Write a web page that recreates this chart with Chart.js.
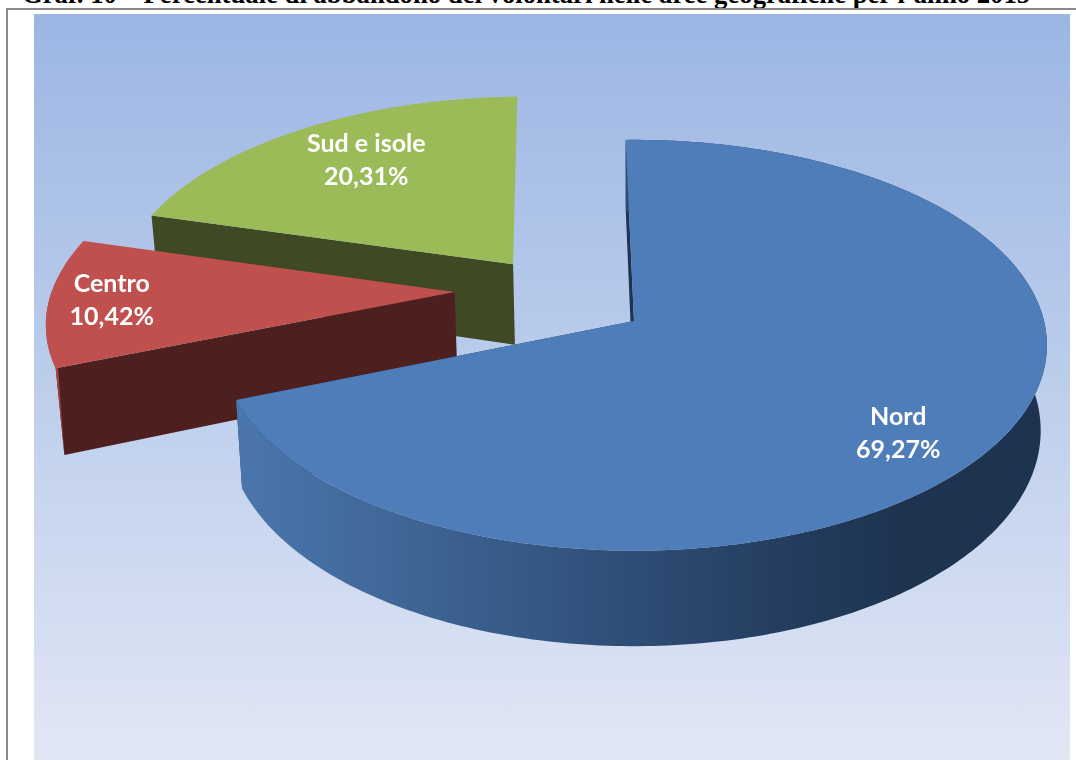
<!DOCTYPE html>
<html>
<head>
<meta charset="utf-8">
<title>Graf. 10</title>
<script src="https://cdn.jsdelivr.net/npm/chart.js@4/dist/chart.umd.min.js"></script>
<style>
  html, body { margin: 0; padding: 0; background: #fff; overflow: hidden; }
  #page { position: relative; width: 1076px; height: 760px; overflow: hidden; }
  #title {
    position: absolute; left: 22px; top: -21px; white-space: nowrap;
    font: bold 26.7px "Liberation Serif", serif; color: #000;
  }
  #frame {
    position: absolute; left: 6px; top: 8px; width: 1080px; height: 770px;
    border: 2px solid #8a8a8a; box-sizing: border-box;
  }
  #plot {
    position: absolute; left: 34px; top: 14px; width: 1036px; height: 746px;
    background: linear-gradient(to bottom, #9cb6e4 0%, #b6c9ea 40%, #e1e7f5 100%);
  }
  canvas { position: absolute; left: 0; top: 0; }
</style>
</head>
<body>
<div id="page">
  <div id="title">Graf. 10 – Percentuale di abbandono dei volontari nelle aree geografiche per l’anno 2015</div>
  <div id="frame"></div>
  <div id="plot"></div>
  <canvas id="chart" width="1076" height="760"></canvas>
</div>
<script>
const categories = ["Nord", "Centro", "Sud e isole"];
const percentages = [69.27, 10.42, 20.31];
const topColors = ["#4f7db9", "#bf504d", "#9bbb59"];
const cutColors = ["#1e3450", "#4e1f1f", "#3f4923"];

// how far each slice is pulled out, in pie radii
const explodeX = [0, -0.445, -0.305];
const explodeY = [0, -0.146, -0.29];
const sliceScale = [1, 1, 0.985];
// where the label sits along the middle of the slice
const labelFraction = [0.735, 0.845, 0.68];
const labelNudge = [26, -1, -9];

// perspective of the tilted pie
const persp = 0.118;
const tilt = 0.494;
const depth = 84;
const depthFront = 15;
const bottomScale = 0.985;

function project(arc, ux, uy, lower) {
  const w = 1 - persp * uy;
  let x = arc.outerRadius * ux / w;
  let y = arc.outerRadius * tilt * uy / w;
  if (lower) {
    x *= bottomScale;
    y = y * bottomScale + depth + depthFront * uy;
  }
  return { x: arc.x + x, y: arc.y + y };
}

function rimPoint(arc, i, angle, lower, f = 1) {
  const r = sliceScale[i] * f;
  return project(arc, explodeX[i] + r * Math.cos(angle), explodeY[i] + r * Math.sin(angle), lower);
}

function apex(arc, i, lower) {
  return project(arc, explodeX[i], explodeY[i], lower);
}

function rimAngles(arc) {
  const out = [];
  const n = Math.ceil((arc.endAngle - arc.startAngle) * 60);
  for (let k = 0; k <= n; k++) {
    out.push(arc.startAngle + (arc.endAngle - arc.startAngle) * k / n);
  }
  return out;
}

function fillPath(ctx, points, color) {
  ctx.beginPath();
  points.forEach((p, k) => (k ? ctx.lineTo(p.x, p.y) : ctx.moveTo(p.x, p.y)));
  ctx.closePath();
  ctx.fillStyle = color;
  ctx.fill();
}

function nordWall(ctx) {
  const g = ctx.createLinearGradient(241, 0, 1048, 0);
  g.addColorStop(0, "#4a76ad");
  g.addColorStop(0.2, "#3f6696");
  g.addColorStop(0.45, "#30507a");
  g.addColorStop(0.7, "#233b5c");
  g.addColorStop(0.82, "#1d3350");
  g.addColorStop(1, "#1d3350");
  return g;
}

const pie3d = {
  id: "pie3d",
  beforeDatasetDraw(chart) {
    const ctx = chart.ctx;
    const arcs = chart.getDatasetMeta(0).data;
    // back to front
    [2, 1, 0].forEach((i) => {
      const arc = arcs[i];
      const angles = rimAngles(arc);
      const a0 = arc.startAngle;

      // the wall along the slice's first cut, only one seen on the pulled out slices
      fillPath(ctx, [apex(arc, i), rimPoint(arc, i, a0), rimPoint(arc, i, a0, true), apex(arc, i, true)], cutColors[i]);
      if (i === 0) {
        const a1 = arc.endAngle;
        fillPath(ctx, [apex(arc, i), rimPoint(arc, i, a1), rimPoint(arc, i, a1, true), apex(arc, i, true)], cutColors[i]);
        const wall = angles.map((a) => rimPoint(arc, i, a))
          .concat(angles.slice().reverse().map((a) => rimPoint(arc, i, a, true)));
        fillPath(ctx, wall, nordWall(ctx));
      }
      if (i === 1) {
        // just a sliver of the round side shows on Centro
        const sliver = angles.filter((a) => a - a0 < 0.4).map((a) => rimPoint(arc, i, a));
        sliver.push(rimPoint(arc, i, a0, true));
        fillPath(ctx, sliver, "#a8423f");
      }

      fillPath(ctx, [apex(arc, i)].concat(angles.map((a) => rimPoint(arc, i, a))), topColors[i]);
    });

    ctx.save();
    ctx.fillStyle = "#fff";
    ctx.font = "bold 25px Lato";
    ctx.textAlign = "center";
    ctx.textBaseline = "middle";
    arcs.forEach((arc, i) => {
      const mid = (arc.startAngle + arc.endAngle) / 2;
      const p = rimPoint(arc, i, mid, false, labelFraction[i]);
      const text = percentages[i].toFixed(2).replace(".", ",") + "%";
      ctx.fillText(categories[i], p.x, p.y + labelNudge[i] - 16.5);
      ctx.fillText(text, p.x, p.y + labelNudge[i] + 16.5);
    });
    ctx.restore();
    return false;
  },
};

new Chart(document.getElementById("chart"), {
  type: "pie",
  data: {
    labels: categories,
    datasets: [{ data: percentages, backgroundColor: topColors, borderWidth: 0 }],
  },
  options: {
    responsive: false,
    animation: false,
    events: [],
    rotation: -1.3,
    radius: 410,
    layout: { padding: { left: 192, bottom: 118 } },
    plugins: { legend: { display: false }, tooltip: { enabled: false } },
  },
  plugins: [pie3d],
});
</script>
</body>
</html>
